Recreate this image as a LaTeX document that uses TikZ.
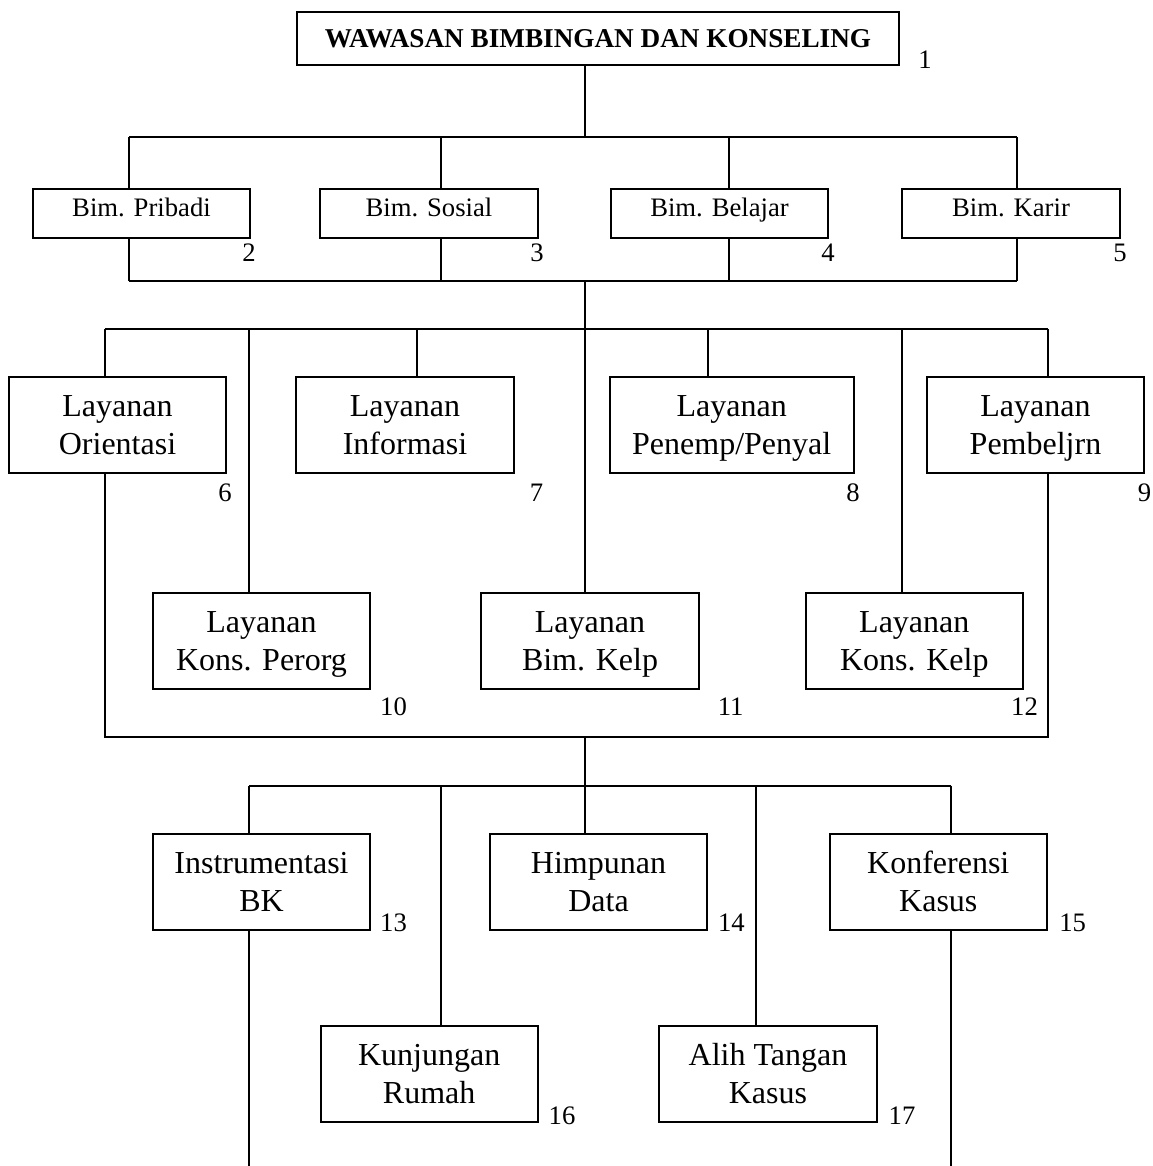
\documentclass[tikz,border=0pt]{standalone}
\usepackage{fontspec}
\setmainfont{Liberation Serif}

\begin{document}
\begin{tikzpicture}[
    x=0.375pt, y=-0.375pt, % one unit = one pixel of the sketch, y grows downwards
    line width=0.75pt,
    box/.style={draw, align=center, minimum width=81.4pt, minimum height=36pt, inner sep=0pt, text height=22.2pt, text depth=0pt, font=\fontsize{12}{14.25}\selectfont}, % big boxes
    smallbox/.style={draw, minimum width=81.4pt, minimum height=18.4pt, inner sep=0pt, text height=6pt, text depth=3.4pt, font=\fontsize{10}{12}\selectfont}, % Bim. boxes
    num/.style={inner sep=0pt, font=\fontsize{10}{12}\selectfont} % the little numbers
]
\useasboundingbox (0,0) rectangle (1152,1166);

% --- Title ---
\node[draw, minimum width=225.75pt, minimum height=19.9pt, font=\bfseries\fontsize{10.2}{12}\selectfont] (title) at (598,38.5) {WAWASAN BIMBINGAN DAN KONSELING};
\node[num] (n1) at (925,60) {1};

% --- Bimbingan boxes ---
\node[smallbox] (pribadi) at (141.5,213.5) {Bim. Pribadi};
\node[smallbox] (sosial)  at (429,213.5)   {Bim. Sosial};
\node[smallbox] (belajar) at (719.5,213.5) {Bim. Belajar};
\node[smallbox] (karir)   at (1011,213.5)  {Bim. Karir};
\node[num] (n2) at (249,253)  {2};
\node[num] (n3) at (537,253)  {3};
\node[num] (n4) at (828,253)  {4};
\node[num] (n5) at (1120,253) {5};

% --- Layanan, upper row ---
\node[box] (orientasi)    at (117.5,425.3) {Layanan\\Orientasi};
\node[box] (informasi)    at (405,425.3)   {Layanan\\Informasi};
\node[box, minimum width=91.5pt] (penempatan) at (731.7,425.3) {Layanan\\Penemp/Penyal};
\node[box] (pembelajaran) at (1035.5,425.3) {Layanan\\Pembeljrn};
\node[num] (n6) at (225,493)    {6};
\node[num] (n7) at (536.5,493)  {7};
\node[num] (n8) at (853,493)    {8};
\node[num] (n9) at (1144.5,493) {9};

% --- Layanan, lower row ---
\node[box] (konsperorg) at (261.5,641) {Layanan\\Kons. Perorg};
\node[box] (bimkelp)    at (590,641)   {Layanan\\Bim. Kelp};
\node[box] (konskelp)   at (914.3,641) {Layanan\\Kons. Kelp};
\node[num] (n10) at (393.5,707)  {10};
\node[num] (n11) at (730.7,707)  {11};
\node[num] (n12) at (1024.5,707) {12};

% --- Kegiatan pendukung ---
\node[box] (instrumentasi) at (261.5,881.7) {Instrumentasi\\BK};
\node[box] (himpunan)      at (598.5,881.7) {Himpunan\\Data};
\node[box] (konferensi)    at (938.3,881.7) {Konferensi\\Kasus};
\node[box] (kunjungan)     at (429.2,1073.7) {Kunjungan\\Rumah};
\node[box] (alihtangan)    at (768,1073.7)   {Alih Tangan\\Kasus};
\node[num] (n13) at (393.5,923)  {13};
\node[num] (n14) at (731.4,923)  {14};
\node[num] (n15) at (1072.7,923) {15};
\node[num] (n16) at (562,1115.7) {16};
\node[num] (n17) at (902,1115.7) {17};

% --- Bus coordinates ---
\coordinate (a0) at (585,137);
\foreach \c/\x in {a1/129, a2/441, a3/729, a4/1017} \coordinate (\c) at (\x,137);
\coordinate (b0) at (585,281);
\foreach \c/\x in {b1/129, b2/441, b3/729, b4/1017} \coordinate (\c) at (\x,281);
\foreach \c/\x in {c1/105, c2/249, c3/417, c4/585, c5/707.6, c6/902, c7/1048} \coordinate (\c) at (\x,329);
\coordinate (d0) at (585,737);
\coordinate (d1) at (105,737);
\coordinate (d2) at (1048,737);
\foreach \c/\x in {e1/249, e2/441, e3/585, e4/756, e5/951} \coordinate (\c) at (\x,785.7);
\coordinate (f1) at (249,1166);
\coordinate (f2) at (951,1166);

% --- Title to Bimbingan ---
\draw (title.south -| a0) -- (a0);
\draw (a1) -- (a4);
\foreach \n/\c in {pribadi/a1, sosial/a2, belajar/a3, karir/a4}
    \draw (\c) -- (\n.north -| \c);

% --- Bimbingan to Layanan ---
\foreach \n/\c in {pribadi/b1, sosial/b2, belajar/b3, karir/b4}
    \draw (\n.south -| \c) -- (\c);
\draw (b1) -- (b4);
\draw (b0) -- (c4);
\draw (c1) -- (c7);
\foreach \n/\c in {orientasi/c1, konsperorg/c2, informasi/c3, bimkelp/c4, penempatan/c5, konskelp/c6, pembelajaran/c7}
    \draw (\c) -- (\n.north -| \c);

% --- Layanan to Kegiatan pendukung ---
\draw (orientasi.south -| d1) -- (d1) -- (d2) -- (pembelajaran.south -| d2);
\draw (d0) -- (e3);
\draw (e1) -- (e5);
\foreach \n/\c in {instrumentasi/e1, kunjungan/e2, himpunan/e3, alihtangan/e4, konferensi/e5}
    \draw (\c) -- (\n.north -| \c);

% --- Loose ends at the bottom ---
\draw (instrumentasi.south -| f1) -- (f1);
\draw (konferensi.south -| f2) -- (f2);

\end{tikzpicture}
\end{document}
